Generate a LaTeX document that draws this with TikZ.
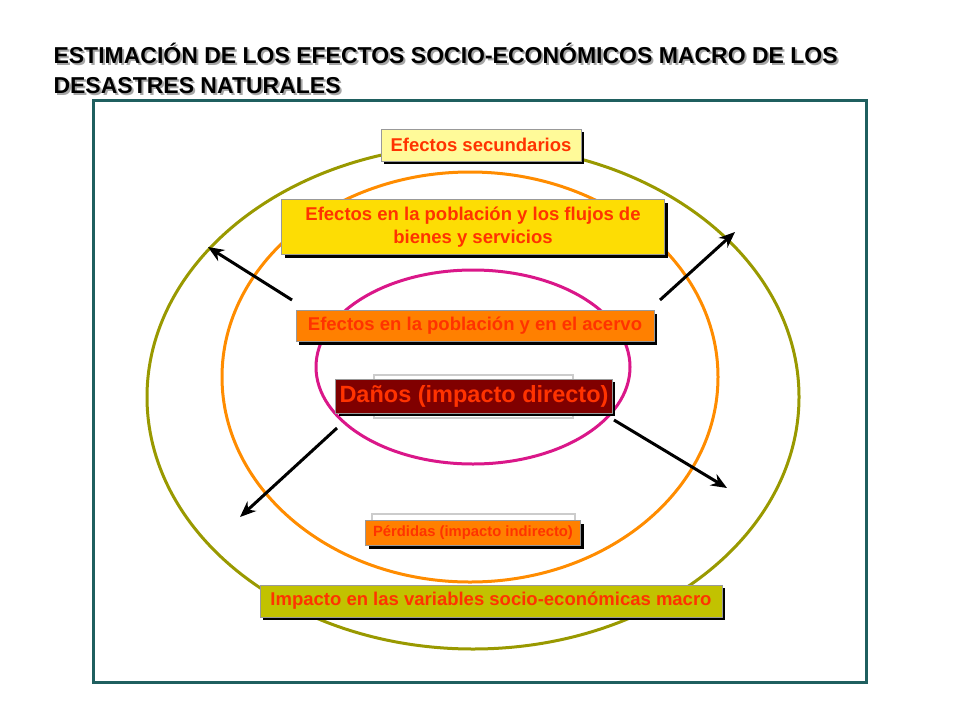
\documentclass[tikz,border=0pt]{standalone}
\usepackage{fontspec}
\setmainfont{Liberation Sans}
\usetikzlibrary{shadows,arrows.meta}
\definecolor{txtred}{HTML}{FF3300}
\definecolor{olivering}{HTML}{999900}
\definecolor{framecol}{HTML}{1F5F5F}
\tikzset{
  efbox/.style={draw=white!60!black,line width=0.6pt,font=\bfseries\fontsize{18.5}{23}\selectfont,text=txtred,
    align=center,inner sep=4pt,drop shadow={shadow xshift=3pt,shadow yshift=-3pt,fill=black,opacity=1}},
  flecha/.style={line width=3pt,-{Stealth[length=16pt,width=13pt]}}
}
\begin{document}
\begin{tikzpicture}[x=1pt,y=-1pt]
  \useasboundingbox (0,0) rectangle (960,720);
  % titulo
  \node (titulo) [anchor=north west,align=left,font=\bfseries\fontsize{23}{30}\selectfont,
    drop shadow={shadow xshift=2pt,shadow yshift=-2pt,fill=none,draw=none}] at (50,40)
    {\rlap{\hspace*{2pt}\raisebox{-2pt}{\textcolor{black!35}{ESTIMACIÓN DE LOS EFECTOS SOCIO-ECONÓMICOS MACRO DE LOS}}}ESTIMACIÓN DE LOS EFECTOS SOCIO-ECONÓMICOS MACRO DE LOS\\
     \rlap{\hspace*{2pt}\raisebox{-2pt}{\textcolor{black!35}{DESASTRES NATURALES}}}DESASTRES NATURALES};
  \draw[framecol,line width=3pt] (93,100) rectangle (866,682);
  % elipses
  \draw[olivering,line width=3pt] (473,397) ellipse [x radius=326,y radius=252];
  \draw[orange!90!yellow,line width=3pt] (470,377) ellipse [x radius=248,y radius=205];
  \draw[magenta!80!violet,line width=3pt] (473,367) ellipse [x radius=157,y radius=97];
  % cajas
  \node (secund) [efbox,fill=yellow!40,minimum width=200pt,minimum height=32pt] at (481,145) {Efectos secundarios};
  \node (flujos) [efbox,fill=yellow!80!orange,minimum width=383pt,minimum height=55pt] at (473,227)
    {Efectos en la población y los flujos de\\bienes y servicios};
  \node (acervo) [efbox,fill=orange,minimum width=358pt,minimum height=31pt] at (475,326)
    {Efectos en la población y en el acervo};
  \draw[black!20,line width=2pt] (374,375) rectangle (573,418);
  \node (danos) [efbox,fill=red!50!black,minimum width=260pt,minimum height=34pt,
    font=\bfseries\fontsize{23.5}{27}\selectfont] at (474,396) {Daños (impacto directo)};
  \draw[black!20,line width=2pt] (372,514) rectangle (575,548);
  \node (perdidas) [efbox,fill=orange,minimum width=215pt,minimum height=25pt,inner sep=2pt,
    font=\bfseries\fontsize{14.8}{17}\selectfont] at (473,533) {Pérdidas (impacto indirecto)};
  \node (impacto) [efbox,fill=olivering!60!yellow,minimum width=462pt,minimum height=32pt] at (491,601)
    {Impacto en las variables socio-económicas macro};
  % flechas
  \coordinate (a1) at (292,300); \coordinate (b1) at (208,247);
  \coordinate (a2) at (660,300); \coordinate (b2) at (735,232);
  \coordinate (a3) at (337,428); \coordinate (b3) at (240,517);
  \coordinate (a4) at (614,420); \coordinate (b4) at (727,488);
  \foreach \i in {1,...,4}
    \draw[flecha] (a\i) -- (b\i);
\end{tikzpicture}
\end{document}
